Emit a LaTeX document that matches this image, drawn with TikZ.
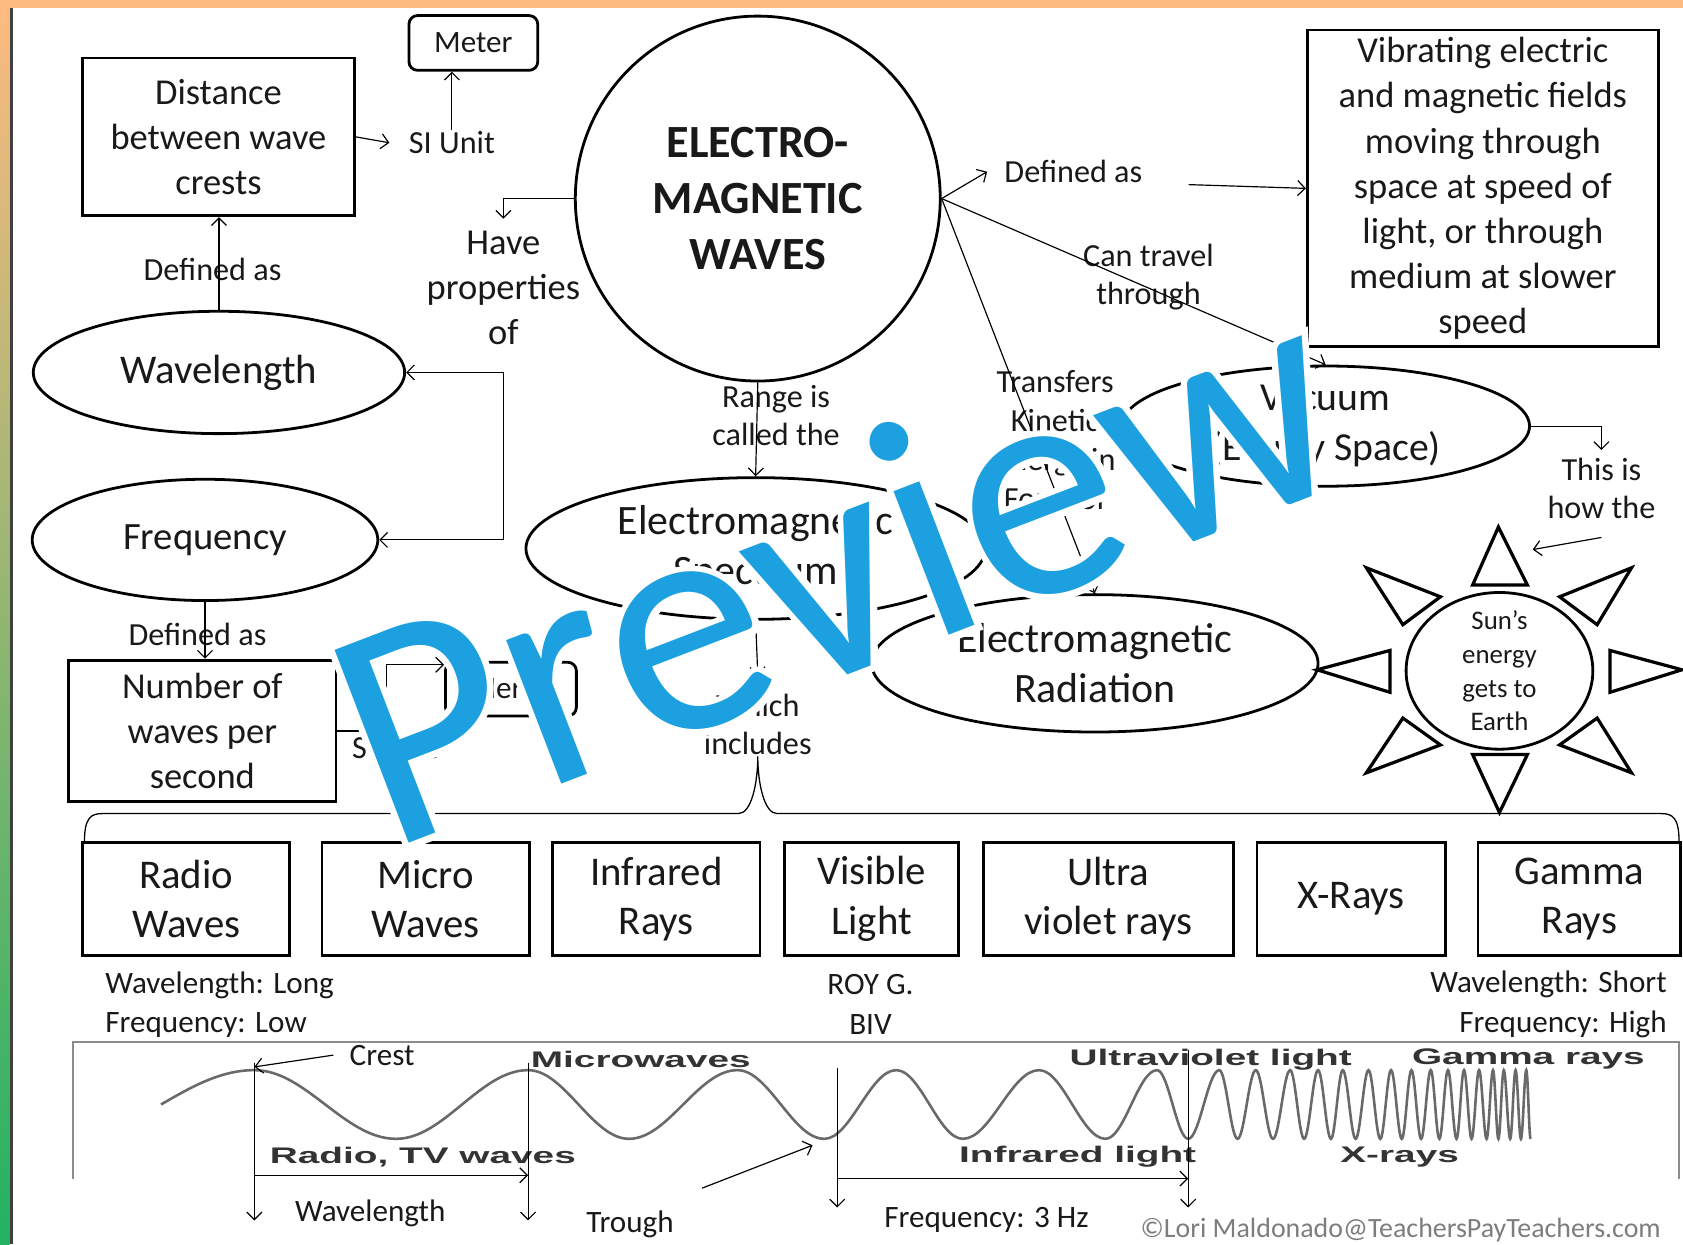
\documentclass[tikz,border=0pt]{standalone}
\usepackage{fontspec}
\setmainfont{Carlito}
\newfontfamily\stripfont{Liberation Sans}
\newfontfamily\wmhalofont[FakeBold=4]{Carlito}
\usetikzlibrary{shapes, arrows.meta}

\definecolor{barorange}{RGB}{253,186,128}
\definecolor{edgepink}{RGB}{250,228,236}
\definecolor{edgegreen}{RGB}{34,178,98}
\definecolor{wmblue}{RGB}{28,160,224}
\definecolor{wavegray}{RGB}{105,105,105}
\definecolor{notegray}{RGB}{125,125,125}

\newcommand{\fsize}[2]{\fontsize{#1pt}{#2pt}\selectfont}
\newcommand{\stretched}[1]{\scalebox{1.72}[1]{\stripfont\bfseries\fsize{21}{25}#1}}

\begin{document}
\begin{tikzpicture}[x=1pt, y=-1pt, text=black!90]
    \tikzstyle{box} = [draw, line width=2.6pt, align=center, inner sep=0pt]
    \tikzstyle{oval} = [draw, ellipse, line width=2.6pt, align=center, inner sep=0pt]
    \tikzstyle{band} = [box, minimum height=105pt, font=\fsize{38}{46}]
    \tikzstyle{ann} = [align=center, inner sep=1pt, font=\fsize{30}{36}]
    \tikzstyle{link} = [line width=1.1pt, -{Straight Barb[length=7pt,width=14pt]}]
    \tikzstyle{stripann} = [inner sep=0pt, text=black!80]

    \useasboundingbox (0,0) rectangle (1568,1159);

    % page edge
    \fill[barorange] (0,0) rectangle (1568,7);
    \shade[top color=barorange, middle color=edgepink, bottom color=edgegreen] (0,7) rectangle (9,1159);
    \draw[line width=2.5pt, black!75] (10.5,7) -- (10.5,1159);

    % top left: wavelength and frequency
    \node[box, rounded corners=8pt, minimum width=120pt, minimum height=51pt, font=\fsize{29}{35}] (meter) at (441,40) {Meter};
    \node[box, minimum width=253pt, minimum height=147pt, font=\fsize{34}{42}] (dist) at (203.5,127.5) {Distance\\between wave\\crests};
    \node[ann] (siu) at (421,133) {SI Unit};
    \node[ann] (wldef) at (198,251) {Defined as};
    \node[oval, minimum width=346pt, minimum height=114pt, font=\fsize{38}{46}] (wl) at (204,347) {Wavelength};
    \node[oval, minimum width=322pt, minimum height=113pt, font=\fsize{36}{44}] (fr) at (191,503) {Frequency};
    \node[ann] (frdef) at (184,591) {Defined as};
    \node[box, minimum width=249pt, minimum height=132pt, font=\fsize{34}{42}] (numb) at (188.5,681) {Number of\\waves per\\second};
    \node[box, rounded corners=8pt, minimum width=122pt, minimum height=50pt, font=\fsize{29}{35}] (hertz) at (476,642) {Hertz};
    \node[ann] (siu2) at (368,696) {SI Unit};
    \node[ann, font=\fsize{34}{42}] (props) at (469,268) {Have\\properties\\of};

    % centre
    \node[circle, draw, line width=2.6pt, minimum size=340pt, inner sep=0pt, align=center, font=\bfseries\fsize{43}{52}] (emw) at (706,185) {ELECTRO-\\MAGNETIC\\WAVES};
    \node[ann] (range) at (723,387) {Range is\\called the};
    \node[oval, minimum width=428pt, minimum height=132pt, font=\fsize{39}{47}] (spec) at (704,511) {Electromagnetic\\Spectrum};
    \node[ann] (incl) at (706,675) {Which\\includes};
    \node[oval, minimum width=416pt, minimum height=128pt, font=\fsize{39}{47}] (rad) at (1020,618) {Electromagnetic\\Radiation};

    % right side
    \node[ann] (defd) at (1000,160) {Defined as};
    \node[box, minimum width=327pt, minimum height=295pt, font=\fsize{34}{42}] (vib) at (1381.5,175.5) {Vibrating electric\\and magnetic fields\\moving through\\space at speed of\\light, or through\\medium at slower\\speed};
    \node[ann] (trav) at (1070,258) {Can travel\\through};
    \node[ann, font=\fsize{30}{36.5}] (kin) at (983,410) {Transfers\\Kinetic\\Energy in\\Form of};
    \node[oval, minimum width=380pt, minimum height=112pt, inner ysep=-4pt, font=\fsize{37}{47}] (vac) at (1235,397) {Vacuum\\(Empty Space)};
    \node[ann] (how) at (1492,455) {This is\\how the};
    \node[oval, minimum width=174pt, minimum height=146pt, inner ysep=-22pt, font=\fsize{25}{31.5}] (sun) at (1397,625) {Sun’s\\energy\\gets to\\Earth};
    \coordinate (sunray) at (1428,512);
    \foreach \ax/\ay/\bx/\by/\cx/\cy in {1396/491/1372/545/1423/545, 1397/757/1372/703/1423/703,
        1227/624/1295/606/1295/645, 1567/624/1500/606/1500/645,
        1273/529/1342/556/1307/582, 1520/529/1453/556/1488/582,
        1273/720/1342/694/1307/669, 1520/720/1453/694/1488/669}
        \draw[line width=3pt] (\ax,\ay) -- (\bx,\by) -- (\cx,\cy) -- cycle;

    % the spectrum
    \node[band, minimum width=193pt] (radio) at (173.5,837.5) {Radio\\Waves};
    \node[band, minimum width=193pt] (micro) at (396.5,837.5) {Micro\\Waves};
    \node[band, minimum width=193pt] (infra) at (611.5,837.5) {Infrared\\Rays};
    \node[band, minimum width=162pt] (visible) at (812,837.5) {Visible\\Light};
    \node[band, minimum width=233pt] (ultra) at (1032.5,837.5) {Ultra\\violet rays};
    \node[band, minimum width=176pt] (xray) at (1259,837.5) {X-Rays};
    \node[band, minimum width=189pt] (gamma) at (1471.5,837.5) {Gamma\\Rays};
    \node[anchor=west, align=left, inner sep=0pt, font=\fsize{29}{37}] (lowend) at (98,936) {Wavelength: Long\\Frequency: Low};
    \node[align=center, inner sep=0pt, font=\fsize{29}{37}] (roy) at (811,936) {ROY G.\\BIV};
    \node[anchor=east, align=right, inner sep=0pt, font=\fsize{29}{37}] (highend) at (1553,936) {Wavelength: Short\\Frequency: High};

    % connectors
    \draw[link] (dist.east) -- ([xshift=-17pt]siu.west);
    \draw[link] (siu.north) -- (siu.north |- meter.south);
    \draw[link] (wl.north) -- (wl.north |- dist.south);
    \draw[link] (fr.south) -- (fr.south |- numb.north);
    \draw[link] (emw.west) -| ([yshift=10pt]props.north);
    \draw[line width=1.1pt, {Straight Barb[length=7pt,width=14pt]}-{Straight Barb[length=7pt,width=14pt]}] (wl.east) -- (wl.east -| props.south) |- (fr.east);
    \draw[link] (numb.east) -- ++(46,0) |- (hertz.160);
    \draw[link] (emw.south) -- (spec.north);
    \draw[link] (spec.south) -- ([yshift=16pt]incl.north);
    \draw[link] (emw.east) -- ([xshift=-15pt]defd.west);
    \draw[link] ([shift={(42pt,-12pt)}]defd.east) -- (vib.west);
    \draw[link] (emw.east) -- (vac.north);
    \draw[link] (emw.east) -- (rad.north);
    \draw[link] (vac.east) -| ([yshift=6pt]how.north);
    \draw[link] ([yshift=-16pt]how.south) -- (sunray);
    \draw[line width=1.2pt] ([xshift=3pt]radio.north west) .. controls +(0,-22) and +(-10,0) .. (95,758) -- (688,758)
        .. controls +(12,0) and +(0,25) .. (incl.south) .. controls +(0,25) and +(-12,0) .. (724,758)
        -- (1548,758) .. controls +(10,0) and +(0,-22) .. ([xshift=-3pt]gamma.north east);

    % wave strip
    \draw[line width=2pt, black!45] (68,1098) -- (68,971) -- (1564,971) -- (1564,1098);
    \draw[line width=2.4pt, wavegray] (150,1029) sin (237,997)
        \foreach \b [remember=\b as \a (initially 237), count=\i] in {369,492,586,687,768,835,897,968,1030,1078,1107,1136,1153,1170,1186,1202,1215,1228,1240,1251,1263,1275,1286,1296,1306,1315,1324,1333,1341,1349,1357,1364,1371,1378,1385,1391,1396,1401,1407,1412,1417,1422,1426}
        { cos ({(\a+\b)/2},1029) sin (\b,{1029+32*(2*mod(\i,2)-1)}) };
    \node[stripann] (mw) at (597,987) {\stretched{Microwaves}};
    \node[stripann] (uv) at (1128,987) {\stretched{Ultraviolet light}};
    \node[stripann] (gr) at (1424,987) {\stretched{Gamma rays}};
    \node[stripann] (tv) at (394,1078) {\stretched{Radio, TV waves}};
    \node[stripann] (ir) at (1004,1078) {\stretched{Infrared light}};
    \node[stripann] (xr) at (1304,1078) {\stretched{X-rays}};

    \coordinate (crest) at (237,994);
    \coordinate (trough) at (757,1067);
    \coordinate (troughtail) at (654,1107);
    \node[ann, font=\fsize{29}{35}] (crestlbl) at (356,983) {Crest};
    \node[ann, font=\fsize{29}{35}] (wavlbl) at (345,1130) {Wavelength};
    \node[ann, font=\fsize{29}{35}] (troughlbl) at (587,1141) {Trough};
    \node[ann, font=\fsize{29}{35}] (freqlbl) at (919,1137) {Frequency: 3 Hz};
    \node[ann, font=\fsize{26}{30}, text=notegray] (credit) at (1305,1146) {©Lori Maldonado@TeachersPayTeachers.com};
    \draw[link] ([xshift=-14pt]crestlbl.west) -- (crest);
    \draw[link] (troughtail) -- (trough);
    \draw[link] (237,990) -- (237,1137);
    \draw[link] (492,990) -- (492,1137);
    \draw[link] (237,1095) -- (492,1095);
    \draw[link] (780,995) -- (780,1125);
    \draw[link] (1107,978) -- (1107,1125);
    \draw[link] (780,1098) -- (1107,1098);

    % overlay lettering
    \node[rotate=21, inner sep=0pt, text=white, font=\wmhalofont\fsize{300}{300}] (wmhalo) at (777,524) {Preview};
    \node[rotate=21, inner sep=0pt, text=wmblue, font=\fsize{300}{300}] (wm) at (777,524) {Preview};
\end{tikzpicture}
\end{document}
